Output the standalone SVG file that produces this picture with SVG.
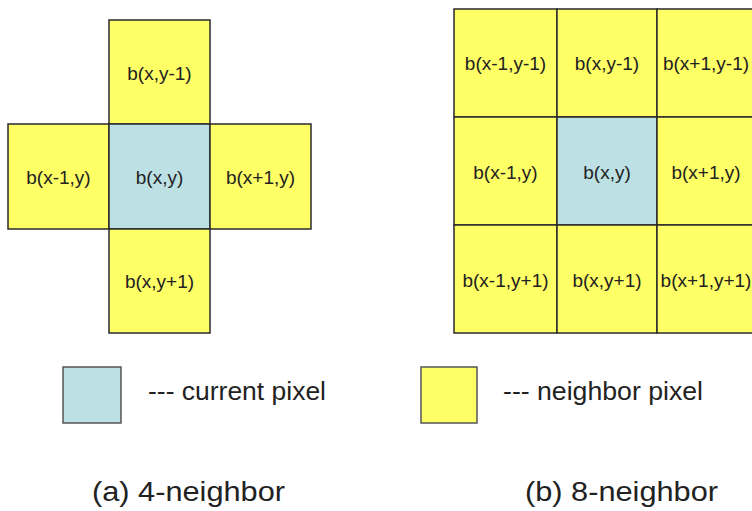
<svg xmlns="http://www.w3.org/2000/svg" width="752" height="511" viewBox="0 0 752 511">
<style>
.n{fill:#FFFF66;stroke:#2a2a2a;stroke-width:1.5}
.c{fill:#BCE0E3;stroke:#2a2a2a;stroke-width:1.5}
.t{font-family:"Liberation Sans",Arial,sans-serif;font-size:19px;fill:#222;text-anchor:middle}
.l{font-family:"Liberation Sans",Arial,sans-serif;font-size:25px;fill:#222}
.cap{font-family:"Liberation Sans",Arial,sans-serif;font-size:28px;fill:#222}
</style>
<g id="four">
<g id="a-top"><rect class="n" x="109" y="20" width="101" height="104"/><text class="t" x="159.5" y="80">b(x,y-1)</text></g>
<g id="a-left"><rect class="n" x="8" y="124" width="101" height="105"/><text class="t" x="58.5" y="184">b(x-1,y)</text></g>
<g id="a-center"><rect class="c" x="109" y="124" width="101" height="105"/><text class="t" x="159.5" y="184">b(x,y)</text></g>
<g id="a-right"><rect class="n" x="210" y="124" width="101" height="105"/><text class="t" x="260.5" y="184">b(x+1,y)</text></g>
<g id="a-bottom"><rect class="n" x="109" y="229" width="101" height="104"/><text class="t" x="159.5" y="288">b(x,y+1)</text></g>
</g>
<g id="eight">
<g id="b-00"><rect class="n" x="454" y="9" width="103" height="108"/><text class="t" x="505.5" y="70">b(x-1,y-1)</text></g>
<g id="b-10"><rect class="n" x="557" y="9" width="100" height="108"/><text class="t" x="607" y="70">b(x,y-1)</text></g>
<g id="b-20"><rect class="n" x="657" y="9" width="100" height="108"/><text class="t" x="706" y="70">b(x+1,y-1)</text></g>
<g id="b-01"><rect class="n" x="454" y="117" width="103" height="108"/><text class="t" x="505.5" y="179">b(x-1,y)</text></g>
<g id="b-11"><rect class="c" x="557" y="117" width="100" height="108"/><text class="t" x="607" y="179">b(x,y)</text></g>
<g id="b-21"><rect class="n" x="657" y="117" width="100" height="108"/><text class="t" x="706" y="179">b(x+1,y)</text></g>
<g id="b-02"><rect class="n" x="454" y="225" width="103" height="108"/><text class="t" x="505.5" y="287">b(x-1,y+1)</text></g>
<g id="b-12"><rect class="n" x="557" y="225" width="100" height="108"/><text class="t" x="607" y="287">b(x,y+1)</text></g>
<g id="b-22"><rect class="n" x="657" y="225" width="100" height="108"/><text class="t" x="706" y="287">b(x+1,y+1)</text></g>
</g>
<g id="legend">
<g id="leg-current"><rect x="63" y="367" width="58" height="56" fill="#BCE0E3" stroke="#555" stroke-width="1.5"/><text class="l" x="148" y="400" textLength="178" lengthAdjust="spacingAndGlyphs">--- current pixel</text></g>
<g id="leg-neighbor"><rect x="421" y="367" width="56" height="56" fill="#FFFF66" stroke="#555" stroke-width="1.5"/><text class="l" x="503" y="400" textLength="200" lengthAdjust="spacingAndGlyphs">--- neighbor pixel</text></g>
</g>
<text class="cap" x="92" y="501" textLength="193" lengthAdjust="spacingAndGlyphs">(a) 4-neighbor</text>
<text class="cap" x="525" y="501" textLength="193" lengthAdjust="spacingAndGlyphs">(b) 8-neighbor</text>
</svg>
